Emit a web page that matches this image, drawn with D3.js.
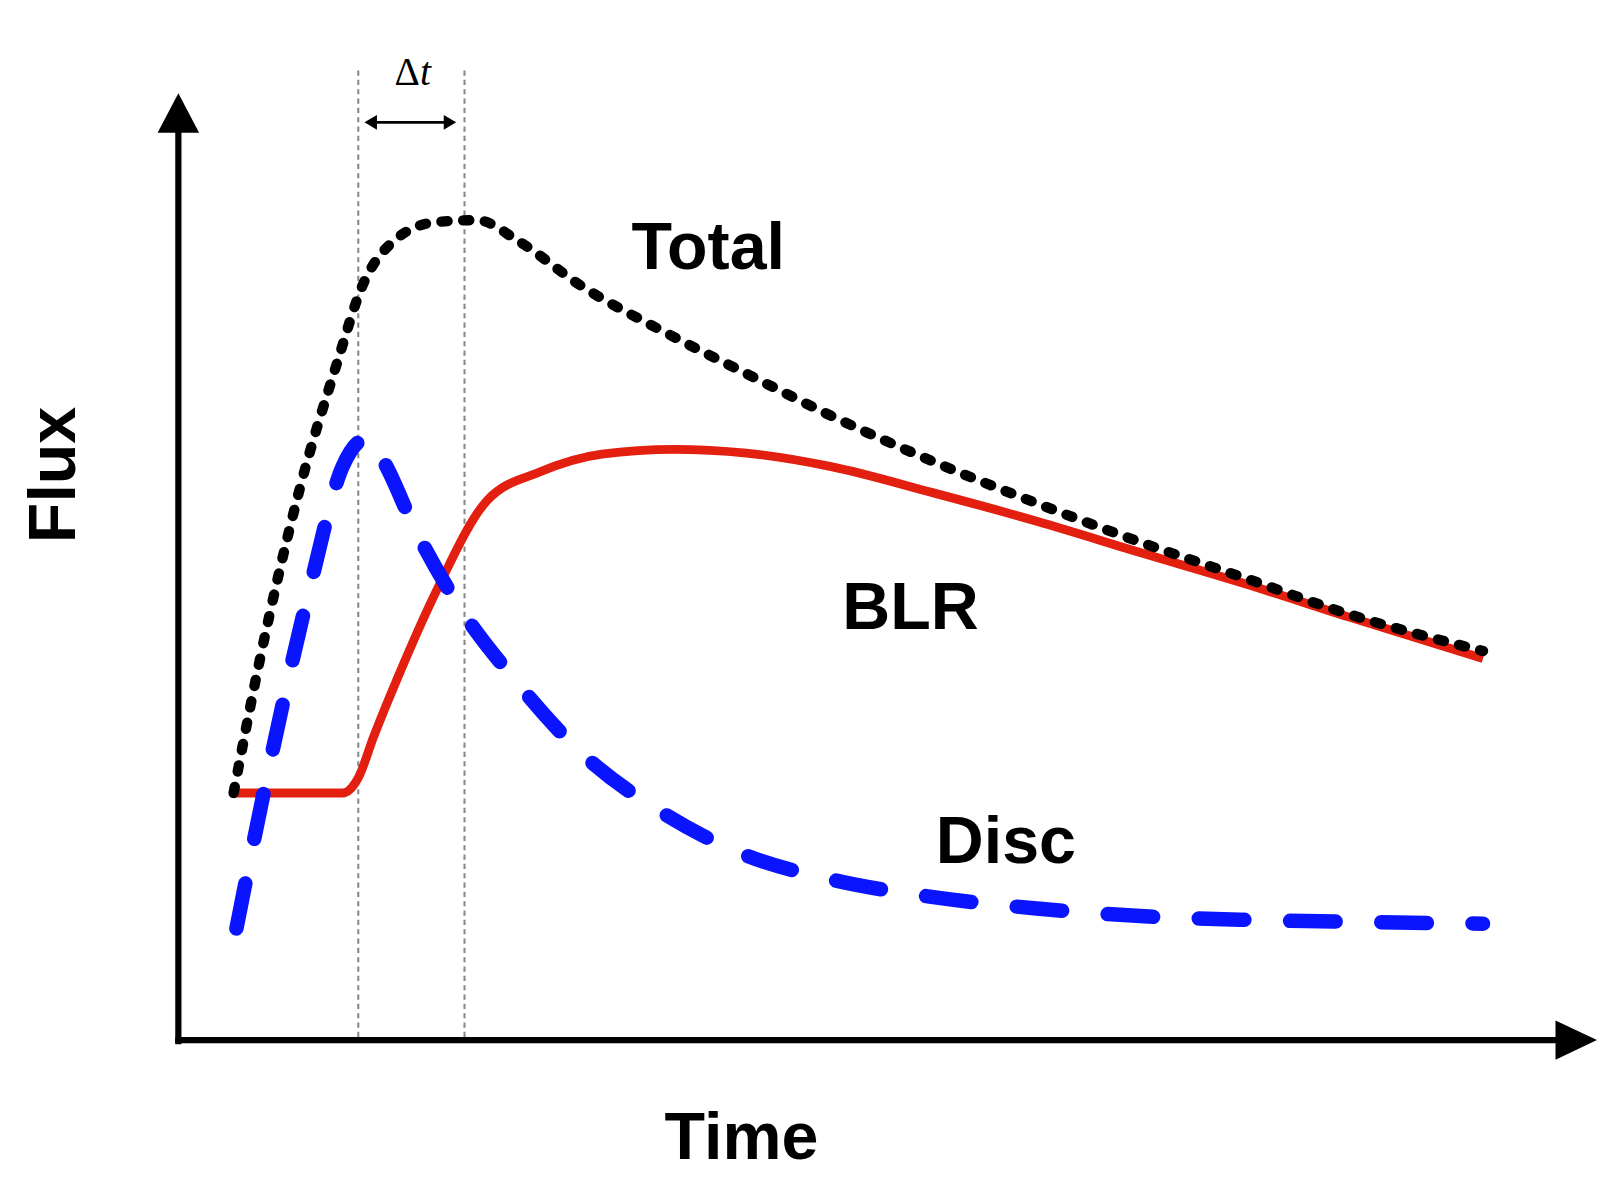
<!DOCTYPE html>
<html>
<head>
<meta charset="utf-8">
<script src="https://cdn.jsdelivr.net/npm/d3@7"></script>
<style>
  body { margin: 0; background: #fff; }
  text { font-family: "Liberation Sans", Arial, sans-serif; font-weight: bold; }
</style>
</head>
<body>
<svg id="chart" width="1624" height="1188"></svg>
<script>
// schematic light curves, time / flux in arbitrary units
const blrTime = [0.37, 1.16, 1.27, 1.38, 1.56, 1.82, 2.18, 2.55, 2.99, 3.50, 4.01, 4.60, 5.33, 6.06, 6.79, 7.53, 8.26, 9.21];
const blrFlux = [2.61, 2.61, 2.77, 3.21, 3.87, 4.74, 5.70, 6.00, 6.19, 6.24, 6.20, 6.06, 5.78, 5.48, 5.15, 4.82, 4.47, 4.03];

const discTime = [0.41, 0.64, 0.94, 1.16, 1.34, 1.45, 1.67, 1.96, 2.40, 2.84, 3.43, 4.01, 4.60, 5.33, 6.06, 6.79, 7.53, 8.26, 9.21];
const discFlux = [1.18, 2.88, 4.85, 6.06, 6.36, 6.11, 5.40, 4.63, 3.76, 3.04, 2.39, 1.95, 1.70, 1.51, 1.39, 1.31, 1.27, 1.25, 1.23];

const totalTime = [0.39, 0.57, 0.86, 1.12, 1.30, 1.52, 1.82, 2.11, 2.40, 2.84, 3.43, 4.01, 4.60, 5.33, 6.06, 6.79, 7.53, 8.26, 9.21];
const totalFlux = [2.61, 3.98, 5.84, 7.15, 7.97, 8.44, 8.64, 8.66, 8.44, 7.97, 7.48, 7.04, 6.60, 6.11, 5.67, 5.26, 4.88, 4.50, 4.11];

const lagMarks = [1.27, 2.02]; // dotted verticals bracketing Δt

const svg = d3.select("#chart").append("g").attr("transform", "scale(1.037)");
const x = d3.scaleLinear().domain([0, 10]).range([172, 1538]);
const y = d3.scaleLinear().domain([0, 10]).range([1003, 90]);

const zip = (ts, fs) => ts.map((t, i) => [t, fs[i]]);
const line = d3.line().x(d => x(d[0])).y(d => y(d[1])).curve(d3.curveMonotoneX);

// lag guides
svg.selectAll(".lag").data(lagMarks).enter().append("line")
    .attr("x1", d => x(d)).attr("x2", d => x(d))
    .attr("y1", 68).attr("y2", y(0))
    .attr("stroke", "#888").attr("stroke-width", 2).attr("stroke-dasharray", "5,4");

// axes with arrow heads
svg.append("line").attr("x1", x(0)).attr("x2", x(0)).attr("y1", y(0) + 4).attr("y2", 120)
    .attr("stroke", "#000").attr("stroke-width", 6);
svg.append("line").attr("x1", x(0) - 3).attr("x2", 1505).attr("y1", y(0)).attr("y2", y(0))
    .attr("stroke", "#000").attr("stroke-width", 6);
svg.append("path").attr("d", `M${x(0)},90 L${x(0) - 20},128 L${x(0) + 20},128 Z`).attr("fill", "#000");
svg.append("path").attr("d", `M1540,${y(0)} L1500,${y(0) - 19} L1500,${y(0) + 19} Z`).attr("fill", "#000");

// curves
svg.append("path").attr("d", line(zip(blrTime, blrFlux)))
    .attr("fill", "none").attr("stroke", "#e31f10").attr("stroke-width", 8.5);
svg.append("path").attr("d", line(zip(discTime, discFlux)))
    .attr("fill", "none").attr("stroke", "#0a14ff").attr("stroke-width", 14)
    .attr("stroke-linecap", "round").attr("stroke-dasharray", "44,44");
svg.append("path").attr("d", line(zip(totalTime, totalFlux)))
    .attr("fill", "none").attr("stroke", "#000").attr("stroke-width", 10)
    .attr("stroke-linecap", "round").attr("stroke-dasharray", "6,15");

// Δt arrow
const ay = 118;
svg.append("line").attr("x1", x(lagMarks[0]) + 14).attr("x2", x(lagMarks[1]) - 16)
    .attr("y1", ay).attr("y2", ay).attr("stroke", "#000").attr("stroke-width", 2.5);
svg.append("path").attr("d", `M${x(lagMarks[0]) + 6},${ay} l12,-7 l0,14 Z`).attr("fill", "#000");
svg.append("path").attr("d", `M${x(lagMarks[1]) - 8},${ay} l-12,-7 l0,14 Z`).attr("fill", "#000");
const dt = svg.append("text").attr("x", 398).attr("y", 82).attr("text-anchor", "middle")
    .style("font-family", "'Liberation Serif', 'DejaVu Serif', serif").style("font-weight", "normal")
    .attr("font-size", 38);
dt.append("tspan").text("Δ");
dt.append("tspan").style("font-style", "italic").text("t");

// labels
const label = (txt, px, py, size) => svg.append("text").attr("x", px).attr("y", py)
    .attr("text-anchor", "middle").attr("font-size", size).text(txt);
label("Total", 683, 259, 64);
label("BLR", 878, 607, 64);
label("Disc", 970, 832, 64);
label("Time", 715, 1118, 64);
svg.append("text").attr("transform", "translate(72,458) rotate(-90)")
    .attr("text-anchor", "middle").attr("font-size", 64).text("Flux");
</script>
</body>
</html>
